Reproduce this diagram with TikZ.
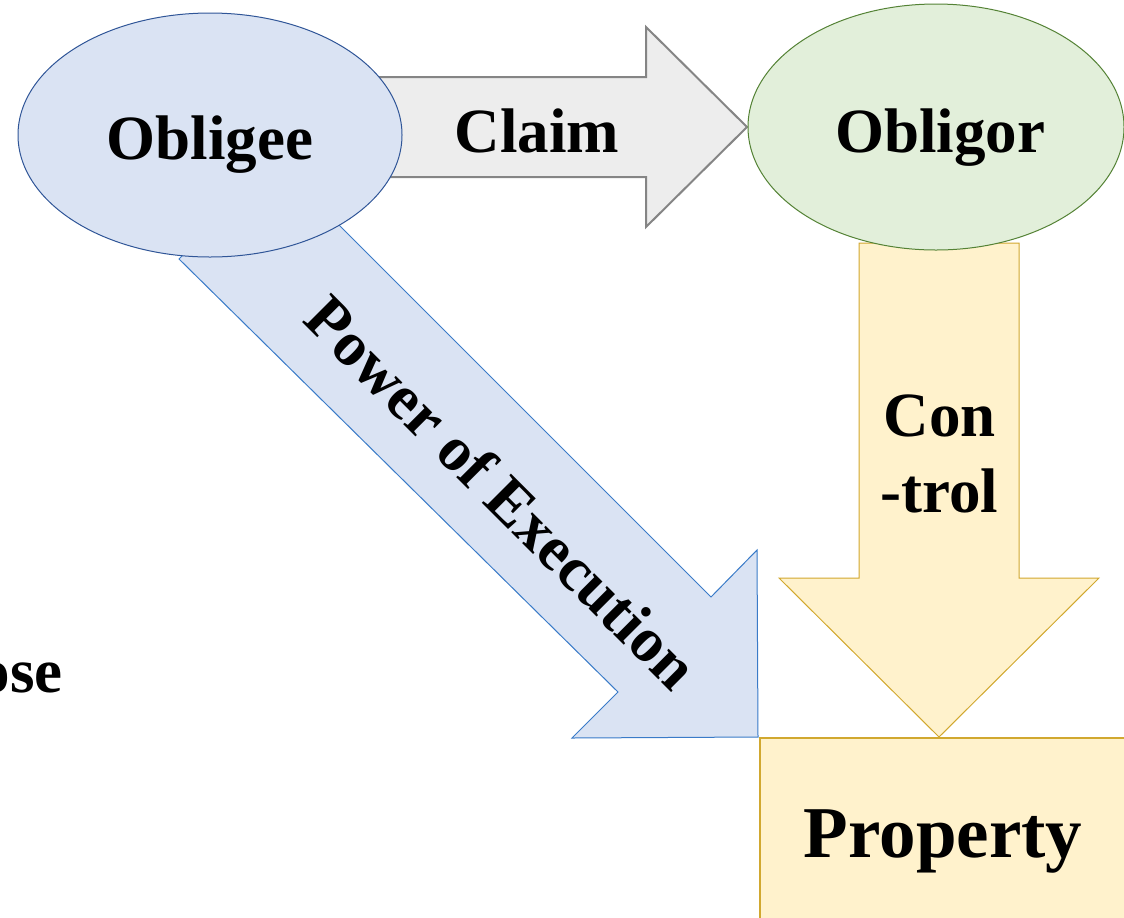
\documentclass[tikz,border=0pt]{standalone}
\usepackage{fontspec}
\setmainfont{Liberation Serif}
\usetikzlibrary{shapes.geometric}
\definecolor{blueFill}{HTML}{DAE3F3}
\definecolor{blueLine}{HTML}{2F5597}
\definecolor{arrowBlue}{HTML}{3A7BC8}
\definecolor{greenFill}{HTML}{E2EFDA}
\definecolor{greenLine}{HTML}{548235}
\definecolor{grayFill}{HTML}{EDEDED}
\definecolor{grayLine}{HTML}{858585}
\definecolor{goldFill}{HTML}{FFF2CC}
\definecolor{goldLine}{HTML}{D1A82F}
\begin{document}
\begin{tikzpicture}[x=0.5pt,y=-0.5pt,
  lbl/.style={font=\fontsize{31.5}{36}\selectfont\bfseries, inner sep=0pt, anchor=base},
  biglbl/.style={font=\fontsize{36.5}{42}\selectfont\bfseries, inner sep=0pt, anchor=base},
  party/.style={ellipse, inner sep=0pt, line width=0.5pt},
  blockarrow/.style={line join=miter, miter limit=10}]
\useasboundingbox (0,0) rectangle (1124,917);

% claim arrow (behind the obligee ellipse)
\draw[blockarrow, fill=grayFill, draw=grayLine, line width=1pt]
  (370,77) -- (646,77) -- (646,27) -- (747,127) -- (646,227) -- (646,177) -- (370,177) -- cycle;

% power of execution arrow
\draw[blockarrow, fill=blueFill, draw=arrowBlue, line width=0.5pt]
  (179,259) -- (276,162) -- (711,597) -- (757,550) -- (758,737) -- (572,738) -- (618,692) -- cycle;

% control arrow (behind the obligor ellipse)
\draw[blockarrow, fill=goldFill, draw=goldLine, line width=0.5pt]
  (859,243) -- (1019,243) -- (1019,578) -- (1099,578) -- (939,737) -- (779,578) -- (859,578) -- cycle;

% property box
\node[draw=goldLine, fill=goldFill, line width=1pt, inner sep=0pt, anchor=north west,
      minimum width=200pt, minimum height=100pt] (property) at (759,737) {};

% parties
\node[party, fill=blueFill, draw=blueLine, minimum width=192pt, minimum height=122pt] (obligee) at (210,135) {};
\node[party, fill=greenFill, draw=greenLine, minimum width=188pt, minimum height=123pt] (obligor) at (936,127) {};

% labels
\node[lbl] (obligeeText) at (210,159) {Obligee};
\node[lbl] (obligorText) at (940,152) {Obligor};
\node[lbl] (claimText) at (537,152) {Claim};
\node[lbl] (conText) at (940,436) {Con};
\node[lbl] (trolText) at (939.5,512) {-trol};
\node[biglbl] (propertyText) at (943,857) {Property};
\node[lbl, anchor=center, rotate=-45] (powerText) at (502,492) {Power of Execution};
\node[lbl, anchor=base west] (oseText) at (-21.5,692) {ose};
\end{tikzpicture}
\end{document}
